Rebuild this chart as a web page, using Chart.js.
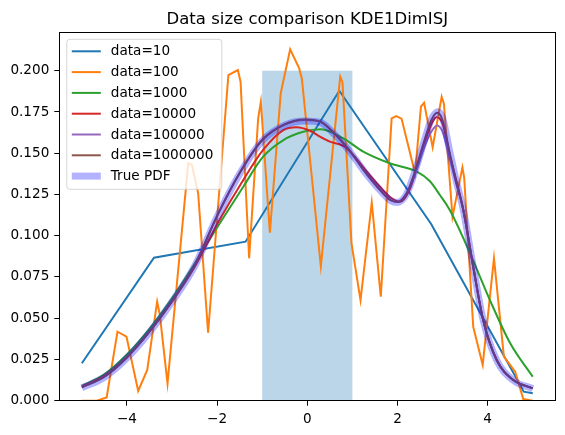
<!DOCTYPE html>
<html>
<head>
<meta charset="utf-8">
<script src="https://cdn.jsdelivr.net/npm/chart.js@4"></script>
<style>
  html, body { margin: 0; padding: 0; background: #fff; font-family: "DejaVu Sans", sans-serif; }
  #wrap { width: 565px; height: 435px; }
</style>
</head>
<body>
<div id="wrap"><canvas id="kde" width="565" height="435"></canvas></div>
<script>
const titleText = "Data size comparison KDE1DimISJ";
const xTicks = [-4, -2, 0, 2, 4];
const yTicks = [0, 0.025, 0.05, 0.075, 0.1, 0.125, 0.15, 0.175, 0.2];
const xRange = [-5.5, 5.5];
const yRange = [0, 0.2233];

// shaded interval
const bandX = [-1, 1];
const bandTop = 0.2;

// data=10
const x10 = [-5, -3.4, -1.37, 0.71, 2.75, 4.8, 5];
const y10 = [0.0227, 0.0867, 0.0964, 0.1879, 0.107, 0.0055, 0.0045];

// data=100
const x100 = [-5, -4.67, -4.45, -4.21, -4.01, -3.75, -3.55, -3.33, -3.27, -3.1, -2.64, -2.56, -2.42, -2.2,
  -1.75, -1.54, -1.48, -1.29, -1.09, -1.03, -0.83, -0.59, -0.38, -0.18, -0.12, 0.3, 0.73, 0.78, 0.98, 1.18,
  1.43, 1.63, 1.87, 1.97, 2.09, 2.39, 2.52, 2.59, 2.78, 2.98, 3.03, 3.22, 3.44, 3.48, 3.68, 3.89, 4.14,
  4.36, 4.61, 4.79, 5];
const y100 = [0, 0, 0.002, 0.0418, 0.0388, 0.0059, 0.0186, 0.06, 0.052, 0.0105, 0.1439, 0.143, 0.1257, 0.0412,
  0.1974, 0.2004, 0.1933, 0.0863, 0.171, 0.1812, 0.1018, 0.1863, 0.213, 0.2015, 0.195, 0.0815, 0.1964, 0.193, 0.0954, 0.061,
  0.12, 0.063, 0.1711, 0.1725, 0.171, 0.1378, 0.1782, 0.1806, 0.1536, 0.1842, 0.18, 0.1115, 0.1414, 0.135, 0.0448, 0.0216, 0.0863,
  0.0267, 0.0176, 0.001, 0];

// data=1000
const x1000 = [-5, -4.5, -4, -3.5, -3, -2.5, -2, -1.42, -0.98, -0.53, -0.09, 0.3, 0.8, 1.24, 1.83, 2.43, 2.72, 2.94, 3.16, 3.61, 4.05, 4.5, 5];
const y1000 = [0.009, 0.016, 0.028, 0.0435, 0.062, 0.083, 0.105, 0.1297, 0.1479, 0.158, 0.163, 0.1645, 0.159, 0.151, 0.1439, 0.1388, 0.133, 0.1247, 0.1156, 0.0893, 0.061, 0.0348, 0.0145];

// data=10000
const x1e4 = [-5, -4.5, -4, -3.5, -3, -2.5, -2, -1.42, -0.98, -0.53, -0.24, 0.06, 0.28, 0.5, 0.8, 1.02, 1.32, 1.61, 1.87, 2.06, 2.28, 2.57, 2.87, 3.0, 3.16, 3.46, 3.68, 3.9, 4.2, 4.57, 5];
const y1e4 = [0.0085, 0.015, 0.0265, 0.042, 0.06, 0.081, 0.107, 0.1338, 0.152, 0.164, 0.1657, 0.1636, 0.16, 0.157, 0.1544, 0.149, 0.1388, 0.1297, 0.1227, 0.1206, 0.1287, 0.154, 0.1718, 0.168, 0.149, 0.1156, 0.0812, 0.0489, 0.0247, 0.0125, 0.0075];

// data=100000
const x1e5 = [-5, -4.5, -4, -3.5, -3, -2.5, -2, -1.5, -1, -0.5, -0.05, 0.3, 0.6, 0.9, 1.25, 1.55, 1.85, 2.0, 2.2, 2.4, 2.6, 2.75, 2.88, 3.0, 3.16, 3.3, 3.46, 3.68, 3.9, 4.2, 4.57, 5];
const y1e5 = [0.0081, 0.0145, 0.0262, 0.0418, 0.0605, 0.082, 0.112, 0.138, 0.158, 0.1675, 0.1702, 0.169, 0.162, 0.153, 0.1398, 0.1297, 0.1215, 0.1205, 0.1255, 0.138, 0.154, 0.163, 0.1668, 0.163, 0.147, 0.132, 0.1156, 0.0812, 0.0489, 0.0247, 0.0125, 0.0075];

// data=1000000
const x1e6 = [-5, -4.5, -4, -3.5, -3, -2.5, -2, -1.5, -1, -0.5, -0.05, 0.3, 0.6, 0.9, 1.25, 1.55, 1.85, 2.0, 2.2, 2.4, 2.6, 2.75, 2.88, 3.0, 3.16, 3.3, 3.46, 3.68, 3.9, 4.2, 4.57, 5];
const y1e6 = [0.0081, 0.0145, 0.0262, 0.0418, 0.0605, 0.082, 0.112, 0.138, 0.158, 0.1675, 0.1705, 0.169, 0.162, 0.153, 0.1398, 0.1297, 0.1215, 0.1205, 0.1255, 0.14, 0.158, 0.17, 0.1745, 0.17, 0.15, 0.133, 0.1156, 0.0812, 0.0489, 0.0247, 0.0125, 0.0075];

// True PDF
const xPdf = [-5, -4.5, -4, -3.5, -3, -2.5, -2, -1.5, -1, -0.5, -0.05, 0.3, 0.6, 0.9, 1.25, 1.55, 1.85, 2.0, 2.2, 2.4, 2.6, 2.75, 2.9, 3.0, 3.16, 3.3, 3.46, 3.68, 3.9, 4.2, 4.57, 5];
const yPdf = [0.0078, 0.0142, 0.0258, 0.0414, 0.06, 0.0815, 0.1115, 0.1375, 0.1575, 0.167, 0.1695, 0.1685, 0.1615, 0.1525, 0.1395, 0.1295, 0.1212, 0.1202, 0.1252, 0.14, 0.158, 0.1705, 0.1752, 0.1715, 0.151, 0.1335, 0.1156, 0.0812, 0.0489, 0.0245, 0.0123, 0.0073];

const pts = (xs, ys) => xs.map((x, i) => ({ x, y: ys[i] }));
const FONT = "'DejaVu Sans', sans-serif";

const datasets = [
  { label: "data=10", data: pts(x10, y10), borderColor: "#1f77b4", order: 6, tension: 0 },
  { label: "data=100", data: pts(x100, y100), borderColor: "#ff7f0e", order: 5, tension: 0 },
  { label: "data=1000", data: pts(x1000, y1000), borderColor: "#2ca02c", order: 4, cubicInterpolationMode: "monotone" },
  { label: "data=10000", data: pts(x1e4, y1e4), borderColor: "#d62728", order: 3, cubicInterpolationMode: "monotone" },
  { label: "data=100000", data: pts(x1e5, y1e5), borderColor: "#9467bd", order: 2, cubicInterpolationMode: "monotone" },
  { label: "data=1000000", data: pts(x1e6, y1e6), borderColor: "#8c564b", order: 1, cubicInterpolationMode: "monotone" },
  { label: "True PDF", data: pts(xPdf, yPdf), borderColor: "rgba(0,0,255,0.3)", order: 0, borderWidth: 7, cubicInterpolationMode: "monotone" }
].map(d => Object.assign({ borderWidth: 2, pointRadius: 0, fill: false }, d));

const decor = {
  id: "decor",
  beforeDatasetsDraw(chart) {
    const { ctx, scales: { x, y } } = chart;
    const l = x.getPixelForValue(bandX[0]), r = x.getPixelForValue(bandX[1]);
    const t = y.getPixelForValue(bandTop), b = y.getPixelForValue(0);
    ctx.save();
    ctx.fillStyle = "rgba(31,119,180,0.3)";
    ctx.fillRect(l, t, r - l, b - t);
    ctx.restore();
  },
  afterDatasetsDraw(chart) {
    const { ctx, chartArea: a } = chart;
    ctx.save();
    // spines
    ctx.strokeStyle = "#000";
    ctx.lineWidth = 1;
    ctx.strokeRect(Math.round(a.left) + 0.5, Math.round(a.top) + 0.5,
      Math.round(a.right - a.left), Math.round(a.bottom - a.top));

    // legend box, upper left
    const lx = a.left + 7.5, ly = a.top + 7, lw = 155, lh = 150, rad = 3;
    ctx.beginPath();
    ctx.roundRect(lx, ly, lw, lh, rad);
    ctx.fillStyle = "rgba(255,255,255,0.8)";
    ctx.fill();
    ctx.strokeStyle = "rgba(204,204,204,0.8)";
    ctx.lineWidth = 1;
    ctx.stroke();
    ctx.font = "13.6px " + FONT;
    ctx.textBaseline = "middle";
    ctx.fillStyle = "#000";
    chart.data.datasets.forEach((d, i) => {
      const ry = ly + 12 + i * 20.8;
      ctx.beginPath();
      ctx.moveTo(lx + 5, ry);
      ctx.lineTo(lx + 34, ry);
      ctx.strokeStyle = d.borderColor;
      ctx.lineWidth = d.borderWidth;
      ctx.stroke();
      ctx.fillText(d.label, lx + 44, ry + 0.5);
    });
    ctx.restore();
  },
  afterDraw(chart) {
    const { ctx, chartArea: a } = chart;
    ctx.save();
    ctx.font = "16.5px " + FONT;
    ctx.fillStyle = "#000";
    ctx.textAlign = "center";
    ctx.textBaseline = "middle";
    ctx.fillText(titleText, (a.left + a.right) / 2, 20);
    ctx.restore();
  }
};

const minus = v => (v < 0 ? "\u2212" + Math.abs(v) : String(v));

new Chart(document.getElementById("kde"), {
  type: "line",
  data: { datasets },
  options: {
    responsive: false,
    animation: false,
    devicePixelRatio: 1,
    layout: { padding: { left: 0, right: 9.7, top: 32.3, bottom: 0 } },
    plugins: { legend: { display: false }, title: { display: false }, tooltip: { enabled: false } },
    scales: {
      x: {
        type: "linear",
        min: xRange[0], max: xRange[1],
        afterBuildTicks: s => { s.ticks = xTicks.map(value => ({ value })); },
        afterFit: s => { s.height = 34.3; },
        grid: { display: true, drawOnChartArea: false, drawTicks: true, tickLength: 5, color: "#000" },
        border: { display: false },
        ticks: { color: "#000", font: { family: FONT, size: 13.6 }, padding: 6, maxRotation: 0, callback: v => minus(v) }
      },
      y: {
        type: "linear",
        min: yRange[0], max: yRange[1],
        afterBuildTicks: s => { s.ticks = yTicks.map(value => ({ value })); },
        afterFit: s => { s.width = 59.3; },
        grid: { display: true, drawOnChartArea: false, drawTicks: true, tickLength: 5, color: "#000" },
        border: { display: false },
        ticks: { color: "#000", font: { family: FONT, size: 13.6 }, padding: 5, callback: v => v.toFixed(3) }
      }
    }
  },
  plugins: [decor]
});
</script>
</body>
</html>
